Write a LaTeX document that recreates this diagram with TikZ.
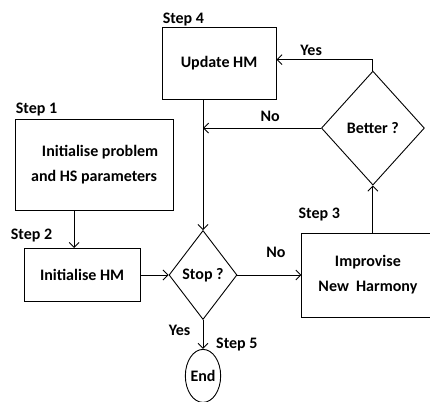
\documentclass[tikz,border=0pt]{standalone}
\usepackage{fontspec}
\setmainfont{Carlito}
\usepackage{tikz}
\usetikzlibrary{arrows.meta,positioning,shapes.geometric}

\begin{document}
\begin{tikzpicture}[x=1pt, y=1pt, every node/.style={font=\bfseries\fontsize{16}{25}\selectfont}, box/.style={rectangle, draw=black, line width=0.9pt, align=center, inner sep=2pt}, decision/.style={diamond, draw=black, line width=0.9pt, inner sep=0pt}, stepnote/.style={anchor=south west, inner sep=1pt}, arrow/.style={-{Straight Barb[length=5pt,width=10pt]}, line width=0.9pt}]
\useasboundingbox (0,0) rectangle (430,401);
\node[decision, minimum width=68pt, minimum height=89pt] (stop) at (203,126) {Stop ?};
\node[box, minimum width=116pt, minimum height=53pt, left=28pt of stop] (inithm) {Initialise HM};
\node[box, minimum width=158pt, minimum height=91pt, above=37pt of inithm, xshift=12pt] (init) {\hspace*{12pt}Initialise problem\\and HS parameters};
\node[box, minimum width=132pt, minimum height=84pt, right=64pt of stop] (improv) {Improvise\\New\ \ Harmony};
\node[decision, minimum width=103pt, minimum height=114pt, above=47pt of improv, xshift=5pt] (better) {Better ?};
\node[box, minimum width=114pt, minimum height=72pt, above=130pt of stop, xshift=16pt] (update) {Update HM};
\node[ellipse, draw=black, line width=0.9pt, inner sep=0pt, minimum width=35pt, minimum height=53pt, below=29pt of stop] (end) {End};
% step labels
\node[stepnote] (s1) at ([yshift=2pt]init.north west) {Step 1};
\node[stepnote] (s2) at ([xshift=-14pt, yshift=5pt]inithm.north west) {Step 2};
\node[stepnote] (s3) at ([xshift=-4pt, yshift=10pt]improv.north west) {Step 3};
\node[stepnote] (s4) at (update.north west) {Step 4};
\node[anchor=base west, inner sep=1pt] (s5) at ([xshift=12pt]end.north) {Step 5};
% connectors
\draw[arrow] ([xshift=-8pt]inithm.north |- init.south) -- ([xshift=-8pt]inithm.north);
\draw[arrow] (inithm) -- (stop);
\draw[arrow] (stop) -- node[pos=0.6, above=14pt] {No} (improv);
\draw[arrow] (better.south |- improv.north) -- (better.south);
\draw[arrow] (better.north) |- node[pos=0.82, above] {Yes} ([yshift=4pt]update.east);
\draw[arrow] (better.west) -- node[pos=0.43, above=3pt] {No} (better.west -| stop.north);
\draw[arrow] (update.south -| stop.north) -- (stop.north);
\draw[arrow] (stop) -- node[pos=0.35, left=9pt] {Yes} (end);
\end{tikzpicture}
\end{document}
